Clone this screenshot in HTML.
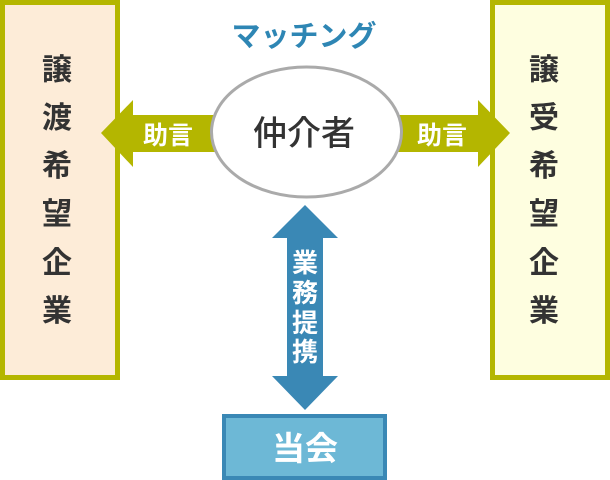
<!DOCTYPE html>
<html><head><meta charset="utf-8"><style>
html,body{margin:0;padding:0;background:#fff;}
svg{display:block;}
text{font-family:"Liberation Sans","Noto Sans CJK JP",sans-serif;}
</style></head><body>
<svg width="610" height="480" viewBox="0 0 610 480" xmlns="http://www.w3.org/2000/svg">
<!-- left box -->
<rect x="2.5" y="2.5" width="115" height="375" fill="#fdecd8" stroke="#b4b600" stroke-width="5"/>
<!-- right box -->
<rect x="492.5" y="2.5" width="115" height="375" fill="#fefee0" stroke="#b4b600" stroke-width="5"/>
<g font-size="30" font-weight="bold" fill="#333" text-anchor="middle">
<text x="57" y="80">譲</text>
<text x="57" y="128">渡</text>
<text x="57" y="176">希</text>
<text x="57" y="224">望</text>
<text x="57" y="273">企</text>
<text x="57" y="321">業</text>
<text x="544" y="80">譲</text>
<text x="544" y="128">受</text>
<text x="544" y="176">希</text>
<text x="544" y="224">望</text>
<text x="544" y="273">企</text>
<text x="544" y="321">業</text>
</g>
<!-- left arrow -->
<polygon points="101,133 133,100 133,115 220,115 220,152 133,152 133,167" fill="#b4b600"/>
<!-- right arrow -->
<polygon points="510,133 478,100 478,115 392,115 392,152 478,152 478,167" fill="#b4b600"/>
<g font-size="25" font-weight="bold" fill="#fff" text-anchor="middle">
<text x="168" y="144">助言</text>
<text x="442" y="144">助言</text>
</g>
<!-- ellipse -->
<ellipse cx="306.5" cy="132" rx="95" ry="65" fill="#fff" stroke="#aaa" stroke-width="3"/>
<text x="304" y="145" font-size="34" font-weight="500" fill="#333" text-anchor="middle">仲介者</text>
<text x="304" y="46" font-size="29" font-weight="bold" fill="#2e86b4" text-anchor="middle">マッチング</text>
<!-- vertical arrow -->
<polygon points="305,205 338,238 323,238 323,376 338,376 305,410 272,376 287,376 287,238 272,238" fill="#3a88b5"/>
<g font-size="26" font-weight="bold" fill="#fff" text-anchor="middle">
<text x="305" y="272">業</text>
<text x="305" y="302">務</text>
<text x="305" y="332">提</text>
<text x="305" y="361">携</text>
</g>
<!-- 当会 box -->
<rect x="224" y="416" width="161" height="62" fill="#6db8d6" stroke="#3a88b5" stroke-width="4"/>
<text x="305" y="460" font-size="33" font-weight="bold" fill="#fff" text-anchor="middle">当会</text>
</svg>
</body></html>
